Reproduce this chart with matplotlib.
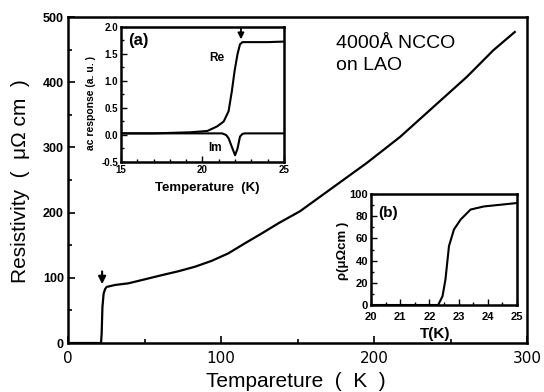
import matplotlib
matplotlib.use("Agg")
import matplotlib.pyplot as plt
from matplotlib.ticker import MultipleLocator

plt.rcParams['font.family'] = ['Liberation Sans', 'DejaVu Sans']

# ---- main curve: resistivity vs temperature ----
main_T = [0, 21.6, 22.0, 22.5, 23.3, 24.3, 25.3, 30.7, 39.4, 50.3, 61.2, 72.1, 83,
          93.9, 104.8, 115.7, 126.6, 137.5, 151.6, 173.4, 195.2, 217, 238.8,
          260.6, 278, 292]
main_rho = [0, 0, 15, 55, 76, 83, 86, 89, 91.5, 97.7, 104, 110, 117,
            126, 137.5, 153, 168, 183.6, 202, 239, 276, 316, 362,
            408, 449, 477]
main_xticks = [0, 100, 200, 300]
main_yticks = [0, 100, 200, 300, 400, 500]
main_arrow_T = 22.3
main_arrow_rho = (114, 86)

# ---- inset (a): ac response ----
a_T_re = [15, 17, 19.25, 20.3, 20.9, 21.3, 21.6, 21.8, 21.97, 22.15, 22.3, 22.45,
          23, 24, 25]
a_re = [0.03, 0.03, 0.05, 0.075, 0.16, 0.25, 0.44, 0.81, 1.19, 1.5, 1.68, 1.72,
        1.72, 1.72, 1.73]
a_T_im = [15, 18, 21.2, 21.45, 21.6, 21.8, 22.0, 22.15, 22.3, 22.45, 22.6, 25]
a_im = [0.03, 0.03, 0.03, 0.0, -0.06, -0.22, -0.375, -0.25, -0.03, 0.02, 0.03, 0.03]
a_xticks = [15, 20, 25]
a_yticks = [-0.5, 0.0, 0.5, 1.0, 1.5, 2.0]
a_arrow_T = 22.36
a_arrow_v = (2.02, 1.72)

# ---- inset (b): zoom of transition ----
b_T = [20, 22.3, 22.45, 22.55, 22.67, 22.84, 23.07, 23.41, 23.87, 24.5, 24.97]
b_rho = [0, 0, 8, 23, 53, 68, 77, 86, 88.8, 90.5, 91.8]
b_xticks = [20, 21, 22, 23, 24, 25]
b_yticks = [0, 20, 40, 60, 80, 100]

W, H = 544, 392
fig = plt.figure(figsize=(W / 100, H / 100), dpi=100)


def rect(l, t, r, b):
    return [l / W, 1 - b / H, (r - l) / W, (b - t) / H]


def px(x, y):
    return (x / W, 1 - y / H)


def style(ax, lw=1.6):
    for s in ax.spines.values():
        s.set_linewidth(lw)


# main axes
ax = fig.add_axes(rect(68, 17, 527, 343))
ax.plot(main_T, main_rho, color='k', lw=1.6, solid_joinstyle='round')
ax.set_xlim(0, 300)
ax.set_ylim(0, 500)
ax.set_xticks(main_xticks)
ax.set_yticks(main_yticks)
ax.xaxis.set_minor_locator(MultipleLocator(50))
ax.yaxis.set_minor_locator(MultipleLocator(50))
ax.tick_params(which='both', direction='in', width=1.2)
ax.tick_params(which='major', length=5)
ax.tick_params(which='minor', length=3)
ax.tick_params(axis='x', pad=6)
ax.tick_params(axis='y', pad=3)
for lab in ax.get_yticklabels():
    lab.set_fontsize(9)
    lab.set_fontweight('bold')
for lab in ax.get_xticklabels():
    lab.set_fontsize(11)
    lab.set_family('DejaVu Sans')
style(ax, 1.8)
ax.annotate('', xy=(main_arrow_T, main_arrow_rho[1]), xytext=(main_arrow_T, main_arrow_rho[0]),
            arrowprops=dict(arrowstyle='-|>', color='k', lw=1.5, mutation_scale=11))
fig.text(*px(296, 387), 'Tempareture  (  K  )', fontsize=15, ha='center', va='baseline')
fig.text(*px(21, 181), 'Resistivity  (  μΩ cm  )', fontsize=15, ha='center', va='center',
         rotation=90)
fig.text(*px(336, 48), '4000Å NCCO', fontsize=14, ha='left', va='baseline')
fig.text(*px(336, 70), 'on LAO', fontsize=14, ha='left', va='baseline')

# inset (a)
axa = fig.add_axes(rect(121, 27, 284, 162))
axa.plot(a_T_re, a_re, color='k', lw=1.5, solid_joinstyle='round')
axa.plot(a_T_im, a_im, color='k', lw=1.5, solid_joinstyle='round')
axa.set_xlim(15, 25)
axa.set_ylim(-0.5, 2.0)
axa.set_xticks(a_xticks)
axa.set_yticks(a_yticks)
axa.set_yticklabels(['-0.5', '0.0', '0.5', '1.0', '1.5', '2.0'])
axa.xaxis.set_minor_locator(MultipleLocator(1))
axa.yaxis.set_minor_locator(MultipleLocator(0.25))
axa.tick_params(which='both', direction='in', width=1.0, labelsize=7, pad=2)
axa.tick_params(which='major', length=4)
axa.tick_params(which='minor', length=2)
for lab in axa.get_xticklabels() + axa.get_yticklabels():
    lab.set_fontweight('bold')
style(axa, 1.8)
axa.annotate('', xy=(a_arrow_T, a_arrow_v[1]), xytext=(a_arrow_T, a_arrow_v[0]),
             arrowprops=dict(arrowstyle='-|>', color='k', lw=1.3, mutation_scale=9),
             annotation_clip=False)
fig.text(*px(207, 191), 'Temperature  (K)', fontsize=9.5, fontweight='bold',
         ha='center', va='baseline')
fig.text(*px(91, 103), 'ac response (a. u. )', fontsize=7.5, fontweight='bold',
         ha='center', va='center', rotation=90)
fig.text(*px(128, 45), '(a)', fontsize=12, fontweight='bold', ha='left', va='baseline')
fig.text(*px(209, 61), 'Re', fontsize=8.5, fontweight='bold', ha='left', va='baseline')
fig.text(*px(208, 151), 'Im', fontsize=8.5, fontweight='bold', ha='left', va='baseline')

# inset (b)
axb = fig.add_axes(rect(371, 194, 517, 305))
axb.plot(b_T, b_rho, color='k', lw=1.5, solid_joinstyle='round')
axb.set_xlim(20, 25)
axb.set_ylim(0, 100)
axb.set_xticks(b_xticks)
axb.set_yticks(b_yticks)
axb.xaxis.set_minor_locator(MultipleLocator(0.5))
axb.yaxis.set_minor_locator(MultipleLocator(10))
axb.tick_params(which='both', direction='in', width=1.0, labelsize=8, pad=2)
axb.tick_params(axis='x', pad=5)
axb.tick_params(which='major', length=4)
axb.tick_params(which='minor', length=2)
for lab in axb.get_xticklabels() + axb.get_yticklabels():
    lab.set_fontweight('bold')
style(axb, 1.8)
fig.text(*px(435, 338), 'T(K)', fontsize=11, fontweight='bold', ha='center', va='baseline')
fig.text(*px(343, 251), 'ρ(μΩcm )', fontsize=9.5, fontweight='bold', ha='center',
         va='center', rotation=90)
fig.text(*px(378, 217), '(b)', fontsize=11, fontweight='bold', ha='left', va='baseline')

fig.savefig('out.png', dpi=100)
